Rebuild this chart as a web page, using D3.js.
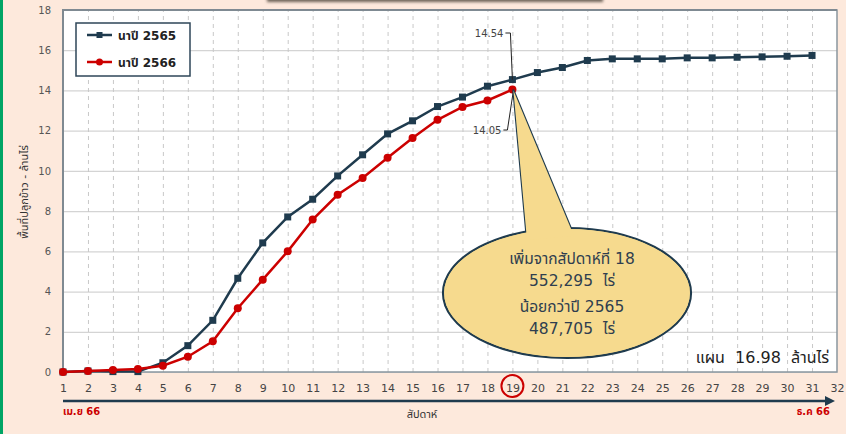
<!DOCTYPE html>
<html>
<head>
<meta charset="utf-8">
<script src="https://d3js.org/d3.v7.min.js"></script>
<style>
  body { margin: 0; background: #fde9dc; }
  svg { display: block; }
  text { font-family: Tahoma, "DejaVu Sans", "Noto Sans Thai", sans-serif; white-space: pre; }
</style>
</head>
<body>
<div id="chart"></div>
<script>

  // week number on x, area in million rai on y
  const weeks = d3.range(1, 32);
  const area2565 = [0, 0.05, 0.02, 0.02, 0.46, 1.31, 2.57, 4.66, 6.42, 7.71, 8.59, 9.75, 10.8, 11.84, 12.49,
                    13.2, 13.67, 14.21, 14.54, 14.89, 15.14, 15.49, 15.57, 15.57, 15.57, 15.62, 15.62, 15.65, 15.67, 15.7, 15.74];
  const area2566 = [0, 0.05, 0.1, 0.15, 0.31, 0.76, 1.53, 3.17, 4.59, 6.0, 7.58, 8.81, 9.65, 10.65, 11.64,
                    12.54, 13.18, 13.5, 14.05];
  const seriesNames = ["นาปี 2565", "นาปี 2566"];
  const yTicks = [0, 2, 4, 6, 8, 10, 12, 14, 16, 18];
  const xTicks = d3.range(1, 33);
  const calloutLines = ["เพิ่มจากสัปดาห์ที่ 18", "552,295  ไร่", "น้อยกว่าปี 2565", "487,705  ไร่"];
  const planLabel = "แผน  16.98  ล้านไร่";

  const w = 846, h = 434;
  const pLeft = 63, pRight = 837, pTop = 10, pBottom = 372;
  const navy = "#1f3b4e", red = "#cc0000", bubble = "#f6da8e";

  const x = d3.scaleLinear().domain([1, 32]).range([pLeft, pRight]);
  const y = d3.scaleLinear().domain([0, 18]).range([pBottom, pTop]);

  const svg = d3.select("#chart").append("svg").attr("width", w).attr("height", h);

  const defs = svg.append("defs");
  const blur = defs.append("filter").attr("id", "shadow").attr("x", "-10%").attr("y", "-200%").attr("width", "120%").attr("height", "500%");
  blur.append("feGaussianBlur").attr("stdDeviation", 1.5);
  defs.append("marker").attr("id", "arrow").attr("viewBox", "0 0 10 10").attr("refX", 2).attr("refY", 5)
      .attr("markerWidth", 4).attr("markerHeight", 4).attr("orient", "auto")
    .append("path").attr("d", "M0,0 L10,5 L0,10 z").attr("fill", navy);

  // green strip on the left and the shadowed shape peeking in at the top
  svg.append("rect").attr("x", 0).attr("y", 0).attr("width", 3).attr("height", h).attr("fill", "#00a565");
  svg.append("rect").attr("x", 267).attr("y", -10).attr("width", 336).attr("height", 12)
     .attr("fill", "#6d6358").attr("filter", "url(#shadow)");
  svg.append("rect").attr("x", 268).attr("y", -10).attr("width", 334).attr("height", 10).attr("fill", "#c9c3bd");

  // plot area
  svg.append("rect").attr("x", pLeft).attr("y", pTop).attr("width", pRight - pLeft).attr("height", pBottom - pTop)
     .attr("fill", "#fff");

  // horizontal grid
  svg.append("g")
     .attr("transform", "translate(" + pLeft + ",0)")
     .call(d3.axisLeft(y).tickValues(yTicks).tickSize(-(pRight - pLeft)).tickFormat(""))
     .call(g => g.select(".domain").remove())
     .call(g => g.selectAll("line").attr("stroke", "#d4d4d4").attr("stroke-width", 1.2));

  // vertical dashed grid
  svg.append("g")
     .attr("transform", "translate(0," + pBottom + ")")
     .call(d3.axisBottom(x).tickValues(d3.range(2, 32)).tickSize(-(pBottom - pTop)).tickFormat(""))
     .call(g => g.select(".domain").remove())
     .call(g => g.selectAll("line").attr("stroke", "#c8c8c8").attr("stroke-dasharray", "4,4"));

  // frame
  svg.append("rect").attr("x", pLeft).attr("y", pTop).attr("width", pRight - pLeft).attr("height", pBottom - pTop)
     .attr("fill", "none").attr("stroke", "#8a969e").attr("stroke-width", 1.5);
  svg.append("path").attr("d", "M" + pLeft + "," + pBottom + "V" + pTop + "H" + pRight)
     .attr("fill", "none").attr("stroke", "#7f8a92").attr("stroke-width", 2);

  // y tick labels
  svg.append("g")
     .attr("transform", "translate(" + (pLeft - 10) + ",0)")
     .call(d3.axisLeft(y).tickValues(yTicks).tickSize(0))
     .call(g => g.select(".domain").remove())
     .call(g => g.selectAll("text").attr("fill", "#555").style("font-size", "10px").attr("x", -2));

  // x tick labels
  svg.append("g")
     .attr("transform", "translate(0," + (pBottom + 9) + ")")
     .call(d3.axisBottom(x).tickValues(xTicks).tickSize(0))
     .call(g => g.select(".domain").remove())
     .call(g => g.selectAll("text").attr("fill", "#444").style("font-size", "11px"));

  // circled week 19
  svg.append("circle").attr("cx", x(19)).attr("cy", pBottom + 14).attr("r", 11)
     .attr("fill", "none").attr("stroke", red).attr("stroke-width", 2);

  // time arrow under the axis
  svg.append("line").attr("x1", x(1)).attr("x2", x(32) - 10).attr("y1", 401).attr("y2", 401)
     .attr("stroke", navy).attr("stroke-width", 2.5).attr("marker-end", "url(#arrow)");
  svg.append("text").attr("x", x(1)).attr("y", 415).attr("fill", red)
     .style("font-size", "10px").style("font-weight", "bold").text("เม.ย 66");
  svg.append("text").attr("x", 830).attr("y", 415).attr("fill", red).attr("text-anchor", "end")
     .style("font-size", "10px").style("font-weight", "bold").text("ธ.ค 66");
  svg.append("text").attr("x", 422).attr("y", 418).attr("fill", "#333").attr("text-anchor", "middle")
     .style("font-size", "11px").text("สัปดาห์");

  // y title
  svg.append("text").attr("transform", "translate(28,192) rotate(-90)").attr("text-anchor", "middle")
     .attr("fill", "#333").style("font-size", "11px").text("พื้นที่ปลูกข้าว - ล้านไร่");

  // series
  const line = d3.line().x((d, i) => x(weeks[i])).y(d => y(d));

  svg.append("path").datum(area2565).attr("d", line)
     .attr("fill", "none").attr("stroke", navy).attr("stroke-width", 2.5);
  svg.append("g").selectAll("rect").data(area2565).join("rect")
     .attr("x", (d, i) => x(weeks[i]) - 3.5).attr("y", d => y(d) - 3.5)
     .attr("width", 7).attr("height", 7).attr("fill", navy);

  svg.append("path").datum(area2566).attr("d", line)
     .attr("fill", "none").attr("stroke", red).attr("stroke-width", 2.5);
  svg.append("g").selectAll("circle").data(area2566).join("circle")
     .attr("cx", (d, i) => x(weeks[i])).attr("cy", d => y(d)).attr("r", 4).attr("fill", red);

  // value labels at week 19
  const xa = x(19), ya = y(area2565[18]), yb = y(area2566[18]);
  svg.append("path").attr("d", "M" + (xa - 7) + ",33 H" + (xa - 2) + " L" + xa + "," + ya)
     .attr("fill", "none").attr("stroke", "#222").attr("stroke-width", 1);
  svg.append("text").attr("x", xa - 9).attr("y", 37).attr("text-anchor", "end")
     .attr("fill", "#444").style("font-size", "10px").text(d3.format(".2f")(area2565[18]));
  svg.append("path").attr("d", "M" + (xa - 9) + ",130 H" + (xa - 5) + " L" + (xa + 1) + "," + (yb + 1))
     .attr("fill", "none").attr("stroke", "#222").attr("stroke-width", 1);
  svg.append("text").attr("x", xa - 11).attr("y", 134).attr("text-anchor", "end")
     .attr("fill", "#444").style("font-size", "10px").text(d3.format(".2f")(area2566[18]));

  // callout bubble: outlines first, then fills on top so the tail merges into the ellipse
  const cx = 567, cy = 293, rx = 124, ry = 65;
  const tail = "M527,240 L" + (xa + 1) + "," + (yb + 1) + " L574,236 Z";
  const callout = svg.append("g");
  callout.append("path").attr("d", tail)
     .attr("fill", bubble).attr("stroke", navy).attr("stroke-width", 2.2).attr("stroke-linejoin", "round");
  callout.append("ellipse").attr("cx", cx).attr("cy", cy).attr("rx", rx).attr("ry", ry)
     .attr("fill", bubble).attr("stroke", navy).attr("stroke-width", 2.2);
  callout.append("ellipse").attr("cx", cx).attr("cy", cy).attr("rx", rx - 1.1).attr("ry", ry - 1.1)
     .attr("fill", bubble);
  callout.append("path").attr("d", tail).attr("fill", bubble).attr("transform", "translate(0,0)")
     .attr("stroke", "none");
  callout.selectAll("text").data(calloutLines).join("text")
     .attr("x", 572).attr("y", (d, i) => [264, 286, 312, 334][i])
     .attr("text-anchor", "middle").attr("fill", "#2f3e4f").style("font-size", "15.5px")
     .text(d => d);

  // plan label
  svg.append("text").attr("x", 829).attr("y", 363).attr("text-anchor", "end")
     .attr("fill", "#222").style("font-size", "16px").text(planLabel);

  // legend
  const legend = svg.append("g");
  legend.append("rect").attr("x", 76).attr("y", 23).attr("width", 114).attr("height", 53)
     .attr("fill", "#fff").attr("stroke", "#2e4658").attr("stroke-width", 1.5);
  seriesNames.forEach((name, i) => {
    const ly = 35 + i * 27;
    const col = i === 0 ? navy : red;
    legend.append("line").attr("x1", 87).attr("x2", 112).attr("y1", ly).attr("y2", ly)
          .attr("stroke", col).attr("stroke-width", 2.5);
    if (i === 0) legend.append("rect").attr("x", 96.5).attr("y", ly - 3).attr("width", 6).attr("height", 6).attr("fill", col);
    else legend.append("circle").attr("cx", 99.5).attr("cy", ly).attr("r", 3.5).attr("fill", col);
    legend.append("text").attr("x", 118).attr("y", ly + 5).attr("fill", "#222")
          .style("font-size", "12px").style("font-weight", "bold").text(name);
  });

</script>
</body>
</html>
